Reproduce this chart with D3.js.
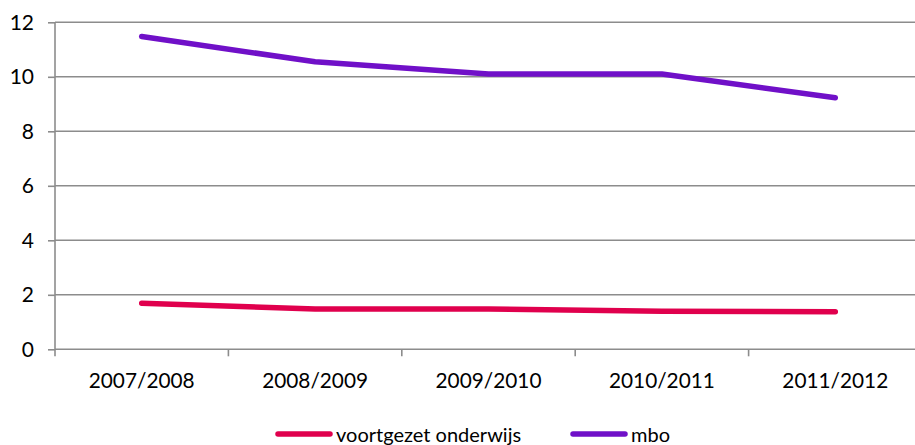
<!DOCTYPE html>
<html><head><meta charset="utf-8">
<script src="https://cdn.jsdelivr.net/npm/d3@7"></script>
<style>body{margin:0;background:#fff;}svg{display:block;font-family:Lato,"Open Sans",sans-serif;}</style>
</head><body>
<svg id="c" width="915" height="445"></svg>
<script>
const categories = ["2007/2008","2008/2009","2009/2010","2010/2011","2011/2012"];
const voortgezet = [1.69,1.48,1.48,1.4,1.38];
const mbo = [11.48,10.55,10.1,10.1,9.23];
const yTicks = [0,2,4,6,8,10,12];
const seriesNames = ["voortgezet onderwijs","mbo"];
const colors = ["#E0004D","#7010C8"];

(function(){
const svg = d3.select("#c");
const pL = 55, pR = 922, pT = 22.3, pB = 349.3;
const x = d3.scaleBand().domain(categories).range([pL,pR]);
const y = d3.scaleLinear().domain([0,12]).range([pB,pT]);
const font = "Lato,'Open Sans',sans-serif";

svg.append("g").selectAll("line").data(yTicks).join("line")
  .attr("x1",pL).attr("x2",pR).attr("y1",d=>y(d)).attr("y2",d=>y(d))
  .attr("stroke","#8c8c8c").attr("stroke-width",1.6);
const ya = svg.append("g").attr("transform",`translate(${pL},0)`)
  .call(d3.axisLeft(y).tickValues(yTicks).tickSize(7).tickPadding(14).tickFormat(d3.format("d")));
ya.select(".domain").attr("stroke","#8c8c8c").attr("stroke-width",1.6).attr("d",`M0,${pT}V${pB}`);
ya.selectAll(".tick line").attr("stroke","#8c8c8c").attr("stroke-width",1.6);
ya.selectAll("text").attr("font-size",21).attr("fill","#000").attr("font-family",font);
const xa = svg.append("g").attr("transform",`translate(0,${pB})`)
  .call(d3.axisBottom(x).tickSize(0).tickPadding(24));
xa.select(".domain").remove();
xa.selectAll("text").attr("font-size",20.8).attr("fill","#000").attr("font-family",font);
const bounds = categories.map(c=>x(c)).concat([pR]);
svg.append("g").selectAll("line").data(bounds).join("line")
  .attr("x1",d=>d).attr("x2",d=>d).attr("y1",pB).attr("y2",pB+7)
  .attr("stroke","#8c8c8c").attr("stroke-width",1.6);

const line = d3.line().x((d,i)=>x(categories[i])+x.bandwidth()/2).y(d=>y(d));
[voortgezet,mbo].forEach((s,k)=>{
  svg.append("path").attr("d",line(s)).attr("fill","none")
    .attr("stroke",colors[k]).attr("stroke-width",5.5).attr("stroke-linecap","round").attr("stroke-linejoin","round");
});

const leg = [{x:278,tx:336},{x:573,tx:631}];
seriesNames.forEach((n,k)=>{
  svg.append("line").attr("x1",leg[k].x).attr("x2",leg[k].x+52).attr("y1",434).attr("y2",434)
    .attr("stroke",colors[k]).attr("stroke-width",5.5).attr("stroke-linecap","round");
  svg.append("text").attr("x",leg[k].tx).attr("y",442).attr("font-size",20).attr("font-family",font).text(n);
});
})();
</script>
</body></html>
